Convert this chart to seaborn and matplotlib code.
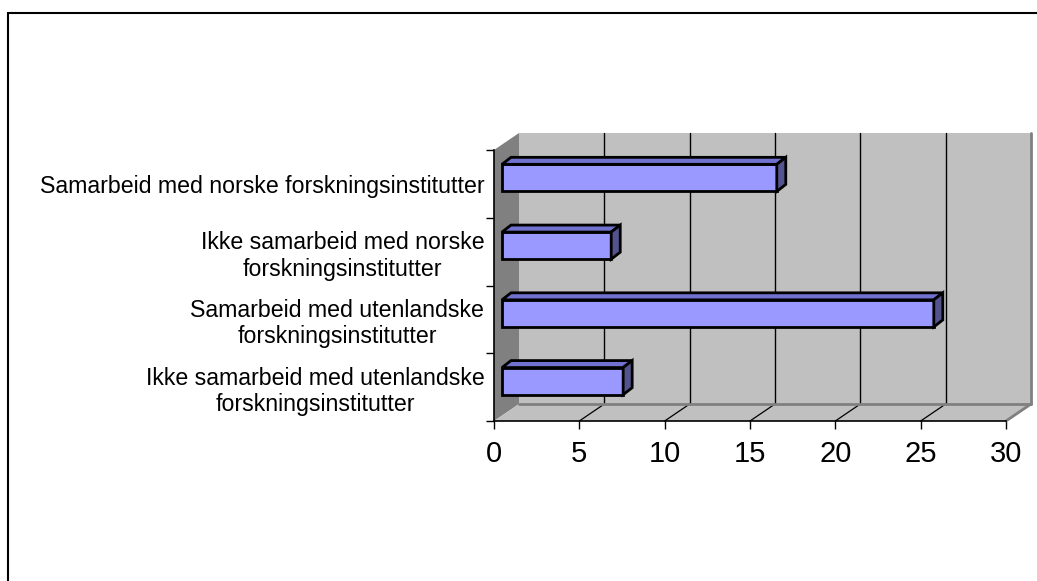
import matplotlib
matplotlib.use("Agg")
import matplotlib.pyplot as plt
import matplotlib.transforms as mtransforms
from matplotlib.patches import Polygon, Rectangle
from matplotlib.lines import Line2D
import pandas as pd
import seaborn as sns

# Chart data
categories = [
    "Samarbeid med norske forskningsinstitutter",
    "Ikke samarbeid med norske\nforskningsinstitutter",
    "Samarbeid med utenlandske\nforskningsinstitutter",
    "Ikke samarbeid med utenlandske\nforskningsinstitutter",
]
values = [16.1, 6.4, 25.3, 7.1]
x_ticks = [0, 5, 10, 15, 20, 25, 30]

sns.set_theme(style="white")
plt.rcParams["font.family"] = ["Liberation Sans", "DejaVu Sans"]

W, H = 1037, 581
fig = plt.figure(figsize=(W / 100, H / 100), dpi=100)
fig.patch.set_facecolor("white")

# front plane of the 3d box (pixels from top-left)
left, right, top, bottom = 494, 1006, 150, 421
ax = fig.add_axes([left / W, (H - bottom) / H, (right - left) / W, (bottom - top) / H])
ax.set_facecolor("none")

df = pd.DataFrame({"category": categories, "value": values})
sns.barplot(data=df, x="value", y="category", orient="h", color="#9999FF",
            saturation=1, width=0.4, edgecolor="black", linewidth=2.0,
            ax=ax, zorder=3)
bars = list(ax.patches)
ax.set_xlim(0, 30)
ax.set_ylim(3.5, -0.5)

# 3d depth offsets in pixels (display coords, y up)
WALL = (25, 17)
BAR_FRONT = (8, 6)
BAR_DEPTH = (9, 7)
ident = mtransforms.IdentityTransform()


def disp(x, y, off=(0, 0)):
    px, py = ax.transData.transform((x, y))
    return (px + off[0], py + off[1])


def poly(pts, **kw):
    ax.add_patch(Polygon(pts, closed=True, transform=ident, clip_on=False, **kw))


def line(p1, p2, **kw):
    ax.add_line(Line2D([p1[0], p2[0]], [p1[1], p2[1]], transform=ident, clip_on=False, **kw))


y_lo, y_hi = 3.5, -0.5
# back wall, left wall, floor
poly([disp(0, y_lo, WALL), disp(30, y_lo, WALL), disp(30, y_hi, WALL), disp(0, y_hi, WALL)],
     facecolor="#C0C0C0", edgecolor="none", zorder=0.5)
poly([disp(0, y_lo), disp(0, y_lo, WALL), disp(0, y_hi, WALL), disp(0, y_hi)],
     facecolor="#808080", edgecolor="none", zorder=0.6)
poly([disp(0, y_lo), disp(30, y_lo), disp(30, y_lo, WALL), disp(0, y_lo, WALL)],
     facecolor="#C0C0C0", edgecolor="none", zorder=0.6)

for v in x_ticks[1:-1]:
    line(disp(v, y_lo, WALL), disp(v, y_hi, WALL), color="black", lw=1.0, zorder=0.8)
    line(disp(v, y_lo), disp(v, y_lo, WALL), color="black", lw=0.9, zorder=0.8)
line(disp(0, y_lo, WALL), disp(30, y_lo, WALL), color="#808080", lw=2, zorder=0.9)
line(disp(30, y_lo, WALL), disp(30, y_hi, WALL), color="#808080", lw=2, zorder=0.9)
line(disp(30, y_lo), disp(30, y_lo, WALL), color="#808080", lw=2, zorder=0.9)

# shift bars to their depth and add top/side faces
shift = mtransforms.ScaledTranslation(BAR_FRONT[0] / 100, BAR_FRONT[1] / 100, fig.dpi_scale_trans)
for p in bars:
    p.set_transform(ax.transData + shift)
    x0, y0 = p.get_x(), p.get_y()
    x1, y1 = x0 + p.get_width(), y0 + p.get_height()
    ft_l = disp(x0, min(y0, y1), BAR_FRONT)
    ft_r = disp(x1, min(y0, y1), BAR_FRONT)
    fb_r = disp(x1, max(y0, y1), BAR_FRONT)
    d = BAR_DEPTH
    poly([ft_l, ft_r, (ft_r[0] + d[0], ft_r[1] + d[1]), (ft_l[0] + d[0], ft_l[1] + d[1])],
         facecolor="#7171D0", edgecolor="black", lw=2.0, joinstyle="miter", zorder=3.1)
    poly([fb_r, ft_r, (ft_r[0] + d[0], ft_r[1] + d[1]), (fb_r[0] + d[0], fb_r[1] + d[1])],
         facecolor="#53538E", edgecolor="black", lw=2.0, joinstyle="miter", zorder=3.1)

# axes, ticks, labels
for s in ["top", "right"]:
    ax.spines[s].set_visible(False)
for s in ["left", "bottom"]:
    ax.spines[s].set_color("black")
    ax.spines[s].set_linewidth(1.2)

ax.set_xticks(x_ticks)
ax.set_yticks([-0.5, 0.5, 1.5, 2.5, 3.5], minor=True)
ax.tick_params(axis="x", bottom=True, length=6, width=1, pad=8, labelsize=21, colors="black")
ax.tick_params(axis="y", which="major", left=False, length=0, pad=7, labelsize=16.7, colors="black")
ax.tick_params(axis="y", which="minor", left=True, length=6, width=1, color="black")
for lbl in ax.get_yticklabels():
    lbl.set_multialignment("center")
ax.set_xlabel("")
ax.set_ylabel("")

# outer chart border
fig.add_artist(Rectangle((8 / W, -0.1), 1.2, (H - 13) / H + 0.1, transform=fig.transFigure,
                         fill=False, edgecolor="black", lw=1.5))

fig.savefig("out.png", dpi=100)
